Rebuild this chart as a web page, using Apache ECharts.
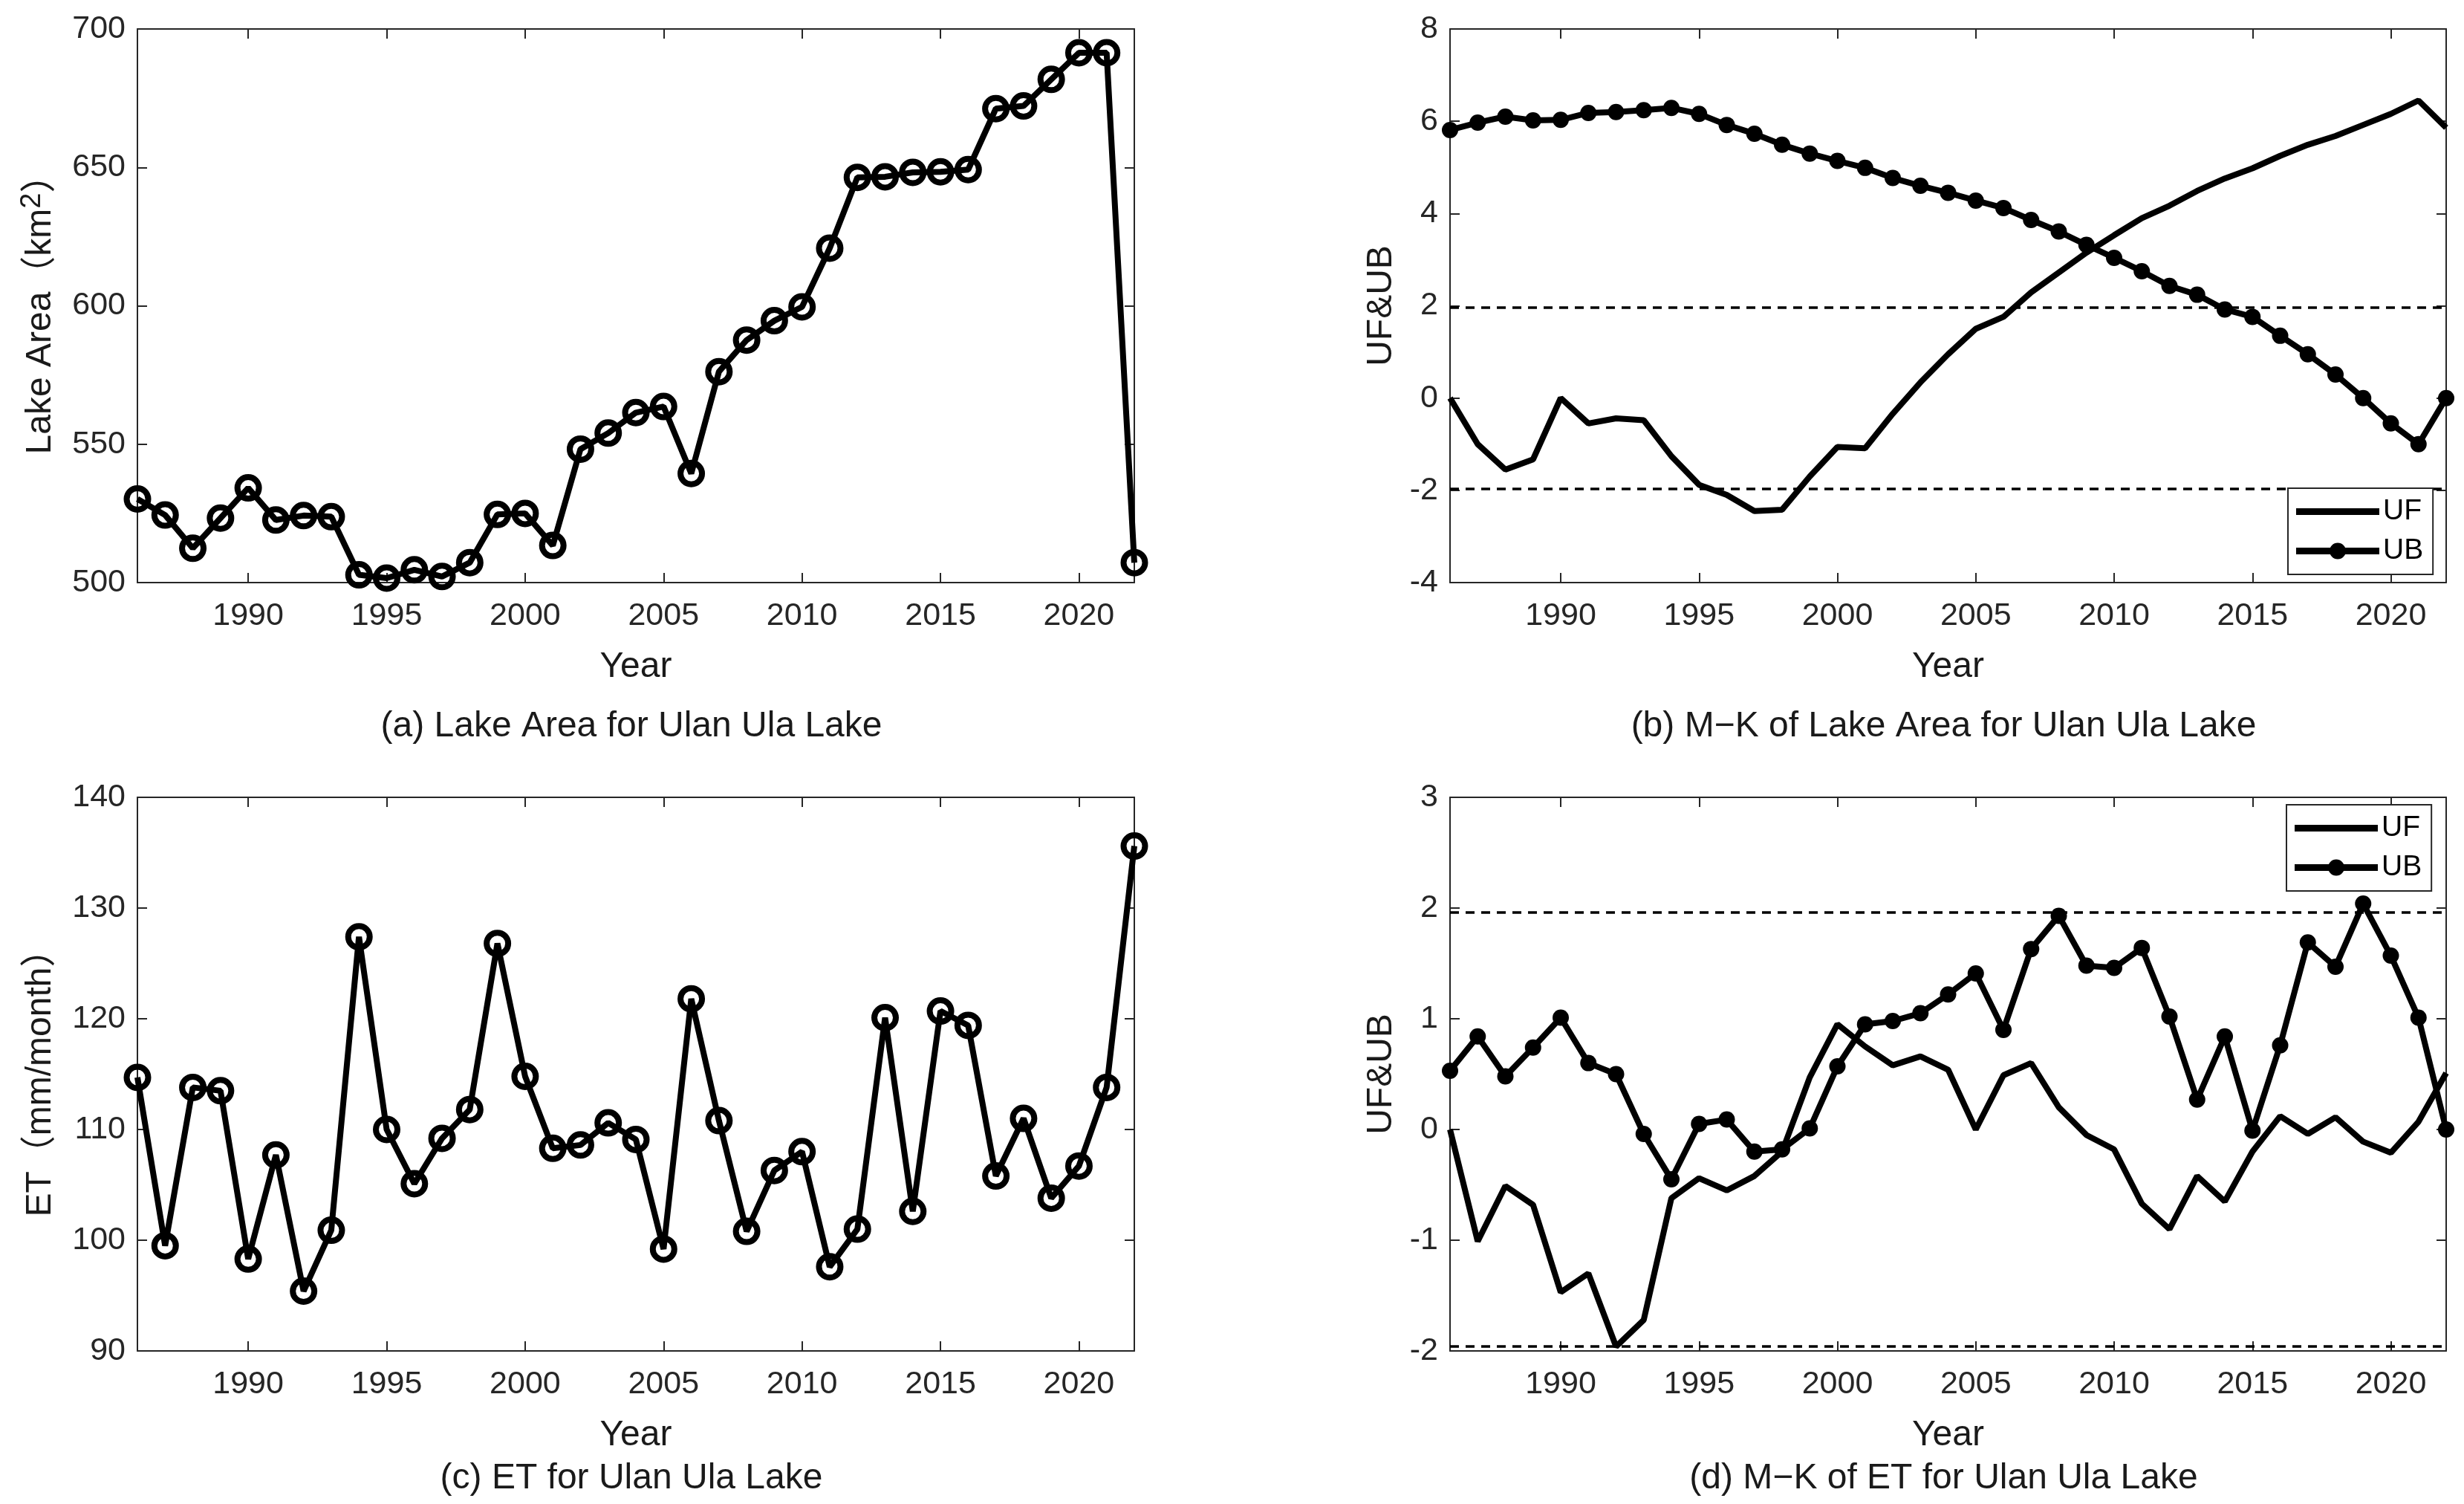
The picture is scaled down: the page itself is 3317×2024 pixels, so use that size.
<!DOCTYPE html>
<html>
<head>
<meta charset="utf-8">
<script src="https://cdn.jsdelivr.net/npm/echarts@6/dist/echarts.min.js"></script>
<style>
html,body{margin:0;padding:0;background:#fff;}
#chart{width:3317px;height:2024px;}
</style>
</head>
<body>
<div id="chart"></div>
<script>
const years = [1986,1987,1988,1989,1990,1991,1992,1993,1994,1995,1996,1997,1998,1999,2000,2001,2002,2003,2004,2005,2006,2007,2008,2009,2010,2011,2012,2013,2014,2015,2016,2017,2018,2019,2020,2021,2022];
const yearTicks = [1990,1995,2000,2005,2010,2015,2020];
const lakeArea = [530.2,524.4,512.4,523.3,534.2,522.6,524.2,523.8,502.8,501.6,504.6,502.2,507.2,524.6,525.0,513.4,548.2,554.0,561.4,563.6,539.4,576.2,587.6,594.6,599.6,620.8,646.4,646.6,648.2,648.4,649.2,671.2,672.2,681.8,691.4,691.4,507.2];
const areaUF = [0,-1.0,-1.55,-1.33,0,-0.55,-0.44,-0.48,-1.26,-1.88,-2.1,-2.45,-2.42,-1.7,-1.06,-1.09,-0.34,0.34,0.95,1.5,1.76,2.29,2.72,3.15,3.53,3.9,4.17,4.49,4.76,4.98,5.25,5.49,5.68,5.92,6.16,6.45,5.86];
const areaUB = [5.81,5.97,6.1,6.02,6.03,6.18,6.2,6.24,6.29,6.16,5.92,5.73,5.49,5.3,5.14,4.99,4.77,4.6,4.45,4.28,4.12,3.86,3.61,3.32,3.04,2.75,2.43,2.24,1.92,1.76,1.35,0.95,0.51,0.0,-0.55,-1.0,0.0];
const et = [114.7,99.5,113.8,113.5,98.3,107.7,95.4,100.9,127.4,110.0,105.1,109.2,111.8,126.8,114.8,108.3,108.6,110.6,109.1,99.2,121.8,110.8,100.8,106.3,108.0,97.6,101.0,120.1,102.6,120.7,119.4,105.8,111.0,103.8,106.7,113.8,135.6];
const etUF = [0,-1.01,-0.51,-0.68,-1.47,-1.3,-1.96,-1.72,-0.62,-0.44,-0.55,-0.42,-0.2,0.47,0.95,0.75,0.58,0.66,0.54,0.0,0.49,0.6,0.2,-0.05,-0.18,-0.67,-0.9,-0.42,-0.65,-0.2,0.12,-0.04,0.11,-0.11,-0.21,0.07,0.51];
const etUB = [0.53,0.84,0.48,0.74,1.01,0.6,0.5,-0.04,-0.45,0.05,0.09,-0.2,-0.18,0.01,0.57,0.95,0.98,1.05,1.22,1.41,0.9,1.63,1.93,1.48,1.46,1.64,1.02,0.27,0.84,-0.01,0.76,1.69,1.47,2.04,1.57,1.01,0.0];
const critical = 1.96;
const captions = ['(a) Lake Area for Ulan Ula Lake','(b) M\u2212K of Lake Area for Ulan Ula Lake','(c) ET for Ulan Ula Lake','(d) M\u2212K of ET for Ulan Ula Lake'];
const yNames = ['{n|Lake Area\uFF08km}{s|2}{n|\uFF09}','UF&UB','{n|ET\uFF08mm/month\uFF09}','UF&UB'];
const yRanges = [[500,700,50],[-4,8,2],[90,140,10],[-2,3,1]];

const FONT = "'Liberation Sans', Arial, Helvetica, 'Noto Sans CJK SC', sans-serif";
const AX = '#262626';
const grids = [
  {left:185, top:39, width:1342, height:745},
  {left:1952, top:39, width:1341, height:745},
  {left:185, top:1073, width:1342, height:745},
  {left:1952, top:1073, width:1341, height:745}
];
const yGaps = [100, 68, 100, 68];

const xAxes = [], yAxes = [];
grids.forEach((g, i) => {
  const base = {
    type:'value', gridIndex:i, min:1986, max:2022,
    axisLine:{show:true, onZero:false, lineStyle:{color:AX, width:2}},
    axisTick:{show:true, inside:true, length:13, customValues:yearTicks, lineStyle:{color:AX, width:2}},
    splitLine:{show:false}
  };
  xAxes.push(Object.assign({}, base, {
    position:'bottom',
    name:'Year', nameLocation:'middle', nameGap:90,
    nameTextStyle:{fontFamily:FONT, fontSize:48, color:'#1a1a1a'},
    axisLabel:{show:true, customValues:yearTicks, margin:24, fontFamily:FONT, fontSize:43, color:AX,
      formatter: v => String(v)}
  }));
  xAxes.push(Object.assign({}, base, {position:'top', axisLabel:{show:false}}));
  const r = yRanges[i];
  const ybase = {
    type:'value', gridIndex:i, min:r[0], max:r[1], interval:r[2],
    axisLine:{show:true, onZero:false, lineStyle:{color:AX, width:2}},
    axisTick:{show:true, inside:true, length:13, lineStyle:{color:AX, width:2}},
    splitLine:{show:false}
  };
  yAxes.push(Object.assign({}, ybase, {
    position:'left',
    name:yNames[i], nameLocation:'middle', nameGap:yGaps[i],
    nameTextStyle:{fontFamily:FONT, fontSize:48, color:'#1a1a1a',
      rich:{n:{fontFamily:FONT, fontSize:48, color:'#1a1a1a', lineHeight:60},
            s:{fontFamily:FONT, fontSize:38, color:'#1a1a1a', lineHeight:12, verticalAlign:'top'}}},
    axisLabel:{show:true, margin:16, fontFamily:FONT, fontSize:43, color:AX}
  }));
  yAxes.push(Object.assign({}, ybase, {position:'right', axisLabel:{show:false}}));
});

const pairs = vals => years.map((y, i) => [y, vals[i]]);
const critLine = {
  silent:true, symbol:['none','none'], animation:false,
  label:{show:false},
  lineStyle:{color:'#000', width:3.5, type:[12,9]},
  emphasis:{disabled:true},
  data:[{yAxis:critical},{yAxis:-critical}]
};
const circleSeries = (vals, gi) => ({
  type:'line', xAxisIndex:gi*2, yAxisIndex:gi*2, data:pairs(vals),
  symbol:'circle', symbolSize:29, showAllSymbol:true,
  lineStyle:{color:'#000', width:8},
  itemStyle:{color:'rgba(0,0,0,0)', borderColor:'#000', borderWidth:8},
  emphasis:{disabled:true}
});
const ufSeries = (vals, gi) => ({
  name:'UF', type:'line', xAxisIndex:gi*2, yAxisIndex:gi*2, data:pairs(vals),
  symbol:'none', lineStyle:{color:'#000', width:8}, itemStyle:{color:'#000'},
  emphasis:{disabled:true}, markLine:critLine
});
const ubSeries = (vals, gi) => ({
  name:'UB', type:'line', xAxisIndex:gi*2, yAxisIndex:gi*2, data:pairs(vals),
  symbol:'circle', symbolSize:22, showAllSymbol:true,
  lineStyle:{color:'#000', width:8}, itemStyle:{color:'#000'},
  emphasis:{disabled:true}
});

const ufIcon = 'path://M0,6.5H112V15.5H0Z M0,0H0.01V0.01H0Z M0,22H0.01V21.99H0Z';
const ubIcon = 'path://M0,6.5H112V15.5H0Z M45,11A11,11 0 1 1 67,11A11,11 0 1 1 45,11Z';
const legendBase = {
  orient:'vertical', itemWidth:112, itemHeight:22, itemGap:14, itemTextGap:9,
  padding:[12,13,12,11], borderColor:AX, borderWidth:2, backgroundColor:'#fff',
  textStyle:{fontFamily:FONT, fontSize:39, color:'#000'},
  itemStyle:{color:'#000', borderWidth:0},
  data:[{name:'UF', icon:ufIcon},{name:'UB', icon:ubIcon}], selectedMode:false, z:10
};

const graphics = captions.map((t, i) => ({
  type:'text',
  x: grids[i].left + grids[i].width/2 - 6,
  y: i < 2 ? 978 : 1990,
  style:{text:t, font:'48px ' + FONT, fill:'#1a1a1a', align:'center', verticalAlign:'middle'}
}));

const option = {
  backgroundColor:'#fff',
  animation:false,
  grid: grids,
  xAxis: xAxes,
  yAxis: yAxes,
  legend: [
    Object.assign({}, legendBase, {left:3080, top:657}),
    Object.assign({}, legendBase, {left:3078, top:1083})
  ],
  graphic: graphics,
  series: [
    circleSeries(lakeArea, 0),
    ufSeries(areaUF, 1), ubSeries(areaUB, 1),
    circleSeries(et, 2),
    ufSeries(etUF, 3), ubSeries(etUB, 3)
  ]
};
const chart = echarts.init(document.getElementById('chart'), null, {renderer:'canvas', devicePixelRatio:1});
chart.setOption(option);
</script>
</body>
</html>
